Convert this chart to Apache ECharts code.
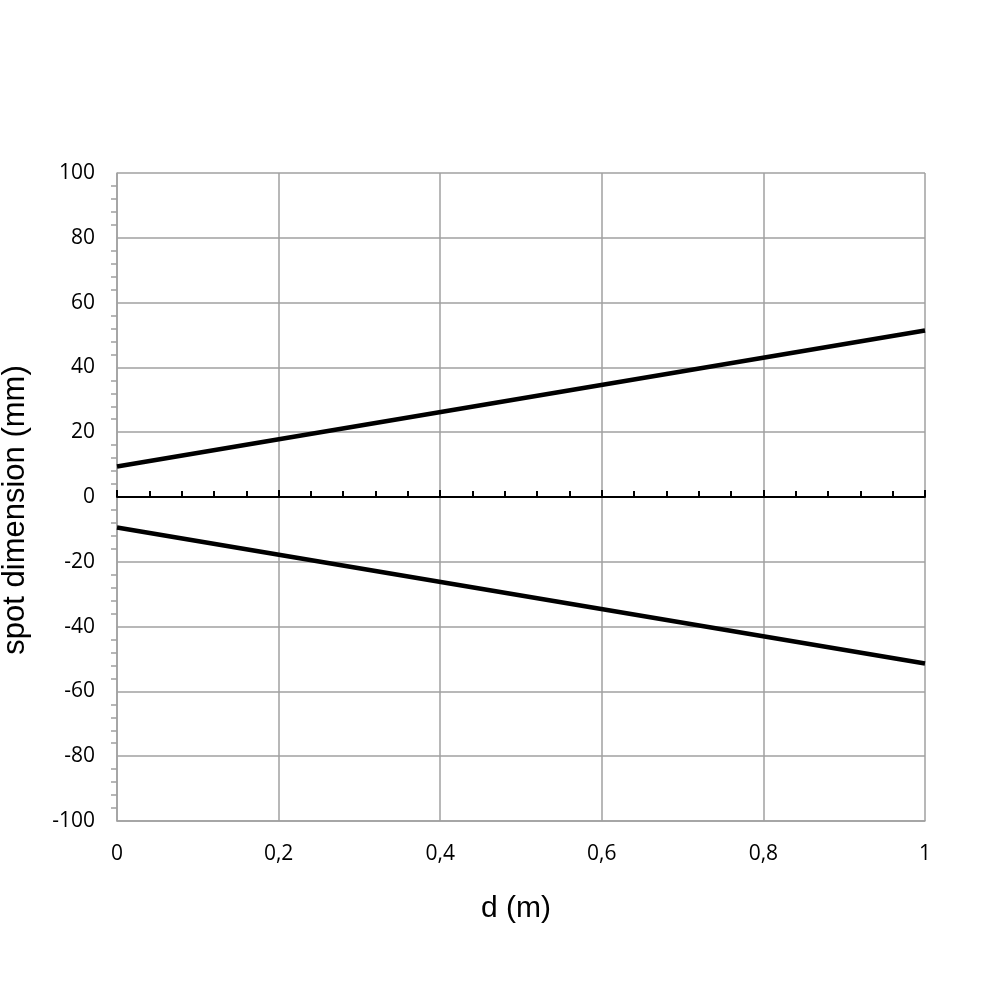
<!DOCTYPE html>
<html><head><meta charset="utf-8">
<script src="https://cdn.jsdelivr.net/npm/echarts@6/dist/echarts.min.js"></script>
<style>html,body{margin:0;padding:0;background:#fff}#c{width:1000px;height:1000px}</style>
</head><body><div id="c"></div>
<script>
const dValues = [0, 1];
const upperEdge = [9.4, 51.4];
const lowerEdge = [-9.4, -51.4];
const xTicks = [0, 0.2, 0.4, 0.6, 0.8, 1];
const yTicks = [-100, -80, -60, -40, -20, 0, 20, 40, 60, 80, 100];

const chart = echarts.init(document.getElementById('c'));
const lab = {fontFamily: 'Open Sans', fontSize: 21, color: '#000'};
chart.setOption({
  animation: false,
  grid: {left: 117, right: 75, top: 173, bottom: 179, outerBoundsMode: 'none', containLabel: false},
  xAxis: [{
    type: 'value', min: 0, max: 1, interval: 0.2,
    name: 'd (m)', nameLocation: 'middle', nameGap: 73,
    nameTextStyle: {fontFamily: 'Liberation Sans', fontSize: 30, color: '#000', padding: [0, 10, 0, 0]},
    axisLine: {onZero: false, lineStyle: {color: '#a0a0a0', width: 1.5}},
    axisTick: {show: false},
    axisLabel: Object.assign({margin: 23, formatter: v => String(v).replace('.', ',')}, lab),
    splitLine: {show: true, lineStyle: {color: '#a0a0a0', width: 1.5}}
  }, {
    type: 'value', min: 0, max: 1, interval: 0.2, position: 'bottom',
    axisLine: {show: true, onZero: true, lineStyle: {color: '#000', width: 2}},
    axisTick: {show: true, inside: true, length: 7, lineStyle: {color: '#000', width: 2}},
    minorTick: {show: true, splitNumber: 5, length: 6, lineStyle: {color: '#000', width: 2}},
    axisLabel: {show: false},
    splitLine: {show: false}
  }],
  yAxis: {
    type: 'value', min: -100, max: 100, interval: 20,
    name: 'spot dimension (mm)', nameLocation: 'middle', nameGap: 86,
    nameTextStyle: {fontFamily: 'Liberation Sans', fontSize: 31, color: '#000', padding: [0, 26, 0, 0]},
    axisLine: {show: true, lineStyle: {color: '#a0a0a0', width: 1.5}},
    axisTick: {show: false},
    minorTick: {show: true, splitNumber: 5, length: 6, lineStyle: {color: '#a0a0a0', width: 1.5}},
    axisLabel: Object.assign({margin: 22}, lab),
    splitLine: {show: true, lineStyle: {color: '#a0a0a0', width: 1.5}}
  },
  series: [
    {type: 'line', xAxisIndex: 0, data: dValues.map((d, i) => [d, upperEdge[i]]), showSymbol: false, lineStyle: {color: '#000', width: 4.5}},
    {type: 'line', xAxisIndex: 0, data: dValues.map((d, i) => [d, lowerEdge[i]]), showSymbol: false, lineStyle: {color: '#000', width: 4.5}}
  ]
});
</script></body></html>
